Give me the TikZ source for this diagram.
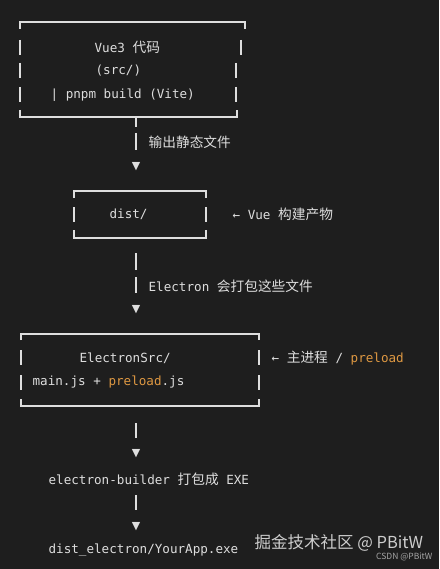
\documentclass[tikz,border=0pt]{standalone}
\usepackage{fontspec}
\newfontfamily\codefont{DejaVu Sans Mono}
\newfontfamily\zhfont{Noto Sans CJK SC}
\newfontfamily\symfont{DejaVu Sans}
\definecolor{bg}{RGB}{30,30,30}
\definecolor{fg}{RGB}{222,222,222}
\definecolor{kw}{RGB}{222,152,66}
\definecolor{wm}{RGB}{205,205,205}
\definecolor{wmsmall}{RGB}{165,165,165}
\newcommand\zh[1]{{\zhfont\fontsize{13.7}{16}\selectfont #1}}
\newcommand\kw[1]{\textcolor{kw}{#1}}
\tikzset{
every picture/.style={
line width=1.3pt
}}

\begin{document}
\begin{tikzpicture}[x=1pt, y=-1pt,
txt/.style = {anchor=west, inner sep=0pt, text=fg, font=\codefont\fontsize{12.6}{15}\selectfont},
tip/.style = {inner sep=0pt, text=fg, font=\symfont\fontsize{11}{12}\selectfont},
edge/.style = {draw=fg, line width=1.2pt},
bar/.style = {draw=fg, line width=1.3pt}]
\fill[bg] (0,0) rectangle (439,569);

% Vue3 box
\draw[edge] (20,29) -- (20,22) -- (245,22) -- (245,29);
\draw[edge] (20,40) -- (20,55) (20,63) -- (20,78) (20,87) -- (20,102);
\draw[edge] (241,40) -- (241,55) (236,63) -- (236,78) (236,87) -- (236,102);
\draw[edge] (20,110) -- (20,117) -- (237,117) -- (237,110);
\node[txt] at (94,47) (vue) {Vue3 \zh{代码}};
\node[txt] at (95,71) (src) {(src/)};
\node[txt] at (50,95) (build) {| pnpm build (Vite)};

% dist box
\draw[edge] (74,198) -- (74,191) -- (206,191) -- (206,198);
\draw[edge] (74,207) -- (74,222) (206,207) -- (206,222);
\draw[edge] (74,230) -- (74,238) -- (206,238) -- (206,230);
\node[txt] at (109,214) (dist) {dist/};
\node[txt] at (232,214) (distnote) {← Vue \zh{构建产物}};

% ElectronSrc box
\draw[edge] (21,340) -- (21,334) -- (259,334) -- (259,340);
\draw[edge] (21,350) -- (21,365) (21,375) -- (21,390) (259,350) -- (259,365) (259,375) -- (259,390);
\draw[edge] (21,399) -- (21,406) -- (259,406) -- (259,399);
\node[txt] at (79,358) (esrc) {ElectronSrc/};
\node[txt] at (32,382) (mainjs) {main.js + \kw{preload}.js};
\node[txt] at (271,358) (esrcnote) {← \zh{主进程} / \kw{preload}};

% steps
\node[txt] at (148,142) (out) {\zh{输出静态文件}};
\node[txt] at (148,286) (pack) {Electron \zh{会打包这些文件}};
\node[txt] at (48,479) (builder) {electron-builder \zh{打包成} EXE};
\node[txt] at (48,550) (exe) {dist\_electron/YourApp.exe};

% arrow heads
\node[tip] at (136,167) (a1) {▼};
\node[tip] at (136,310) (a2) {▼};
\node[tip] at (136,454) (a3) {▼};
\node[tip] at (136,527) (a4) {▼};

\coordinate (vueout) at (136,118);
\coordinate (distout) at (136,238);
\coordinate (srcout) at (136,406);
\coordinate (bldout) at (136,487);
\draw[bar, dash pattern=on 9pt off 6pt on 17pt off 40pt] (vueout) -- (a1.north);
\draw[bar, dash pattern=on 0pt off 15pt on 17pt off 7pt on 16pt off 40pt] (distout) -- (a2.north);
\draw[bar, dash pattern=on 0pt off 17pt on 15pt off 40pt] (srcout) -- (a3.north);
\draw[bar, dash pattern=on 0pt off 8pt on 15pt off 40pt] (bldout) -- (a4.north);

% watermark
\node[anchor=west, inner sep=0pt, text=wm, font=\zhfont\fontsize{16.5}{18}\selectfont] at (254,543) (mark) {掘金技术社区 @ PBitW};
\node[anchor=east, inner sep=0pt, text=wmsmall, font=\zhfont\fontsize{8.5}{9}\selectfont] at (433,557) (csdn) {CSDN @PBitW};
\end{tikzpicture}
\end{document}
